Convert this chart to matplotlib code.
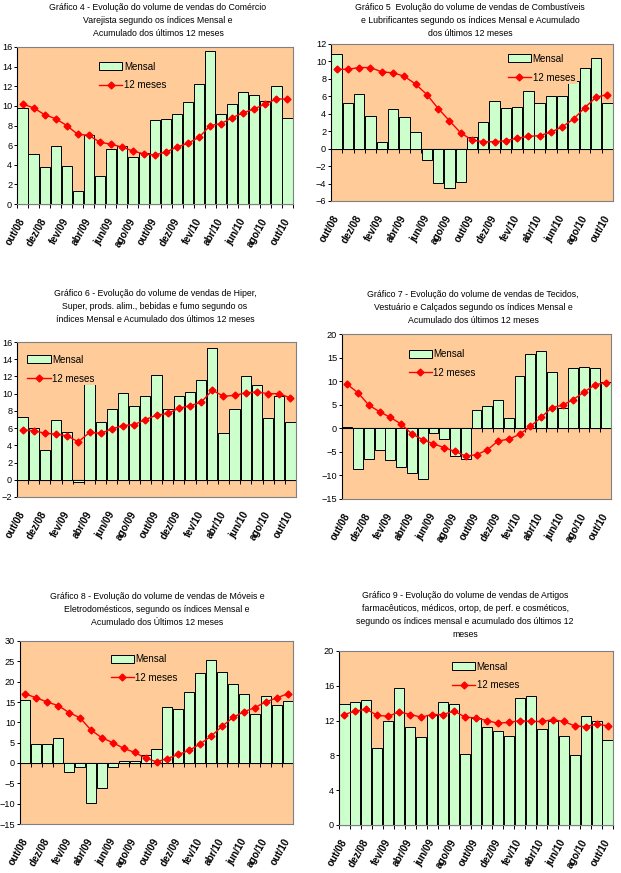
import numpy as np
import matplotlib
matplotlib.use('Agg')
import matplotlib.pyplot as plt
from matplotlib.lines import Line2D
from matplotlib.patches import Patch

plt.rcParams['font.family'] = ['Liberation Sans', 'DejaVu Sans']

months = ['out/08', 'nov/08', 'dez/08', 'jan/09', 'fev/09', 'mar/09', 'abr/09', 'mai/09',
          'jun/09', 'jul/09', 'ago/09', 'set/09', 'out/09', 'nov/09', 'dez/09', 'jan/10',
          'fev/10', 'mar/10', 'abr/10', 'mai/10', 'jun/10', 'jul/10', 'ago/10', 'set/10', 'out/10']

# Grafico 4 - Comercio varejista
mensal_4 = [9.8, 5.1, 3.8, 5.9, 3.9, 1.3, 7.0, 2.9, 5.6, 5.9, 4.8, 5.2, 8.6, 8.7, 9.2,
            10.4, 12.2, 15.6, 9.2, 10.2, 11.4, 11.1, 10.5, 12.0, 8.8]
acum_4 = [10.2, 9.8, 9.1, 8.7, 8.0, 7.1, 7.0, 6.3, 6.1, 5.8, 5.4, 5.1, 5.0, 5.3, 5.8,
          6.2, 6.8, 8.0, 8.2, 8.8, 9.3, 9.7, 10.2, 10.7, 10.7]

# Grafico 5 - Combustiveis e lubrificantes
mensal_5 = [10.9, 5.2, 6.3, 3.8, 0.8, 4.5, 3.6, 1.9, -1.3, -3.9, -4.5, -3.8, 1.3, 3.0, 5.5,
            4.7, 4.8, 6.6, 5.2, 6.0, 6.0, 7.8, 9.2, 10.4, 5.2]
acum_5 = [9.1, 9.1, 9.3, 9.3, 8.8, 8.7, 8.3, 7.4, 6.2, 4.6, 3.2, 1.8, 1.0, 0.8, 0.8,
          0.9, 1.2, 1.4, 1.5, 1.9, 2.5, 3.4, 4.7, 5.9, 6.2]

# Grafico 6 - Hiper, super
mensal_6 = [7.3, 6.0, 3.5, 7.0, 5.6, -0.3, 14.2, 6.7, 8.2, 10.1, 8.6, 9.7, 12.2, 8.2, 9.7,
            10.2, 11.6, 15.3, 5.4, 8.2, 12.0, 11.0, 7.2, 9.7, 6.7]
acum_6 = [5.8, 5.7, 5.4, 5.3, 5.1, 4.4, 5.5, 5.4, 5.9, 6.3, 6.4, 7.0, 7.5, 7.7, 8.3,
          8.6, 9.0, 10.4, 9.7, 9.8, 10.1, 10.2, 10.0, 10.0, 9.5]

# Grafico 7 - Tecidos, vestuario e calcados
mensal_7 = [0.3, -8.7, -6.6, -4.7, -6.8, -8.3, -9.5, -10.8, -0.9, -2.3, -5.8, -6.6, 3.9, 4.7, 6.0,
            2.2, 11.1, 15.7, 16.5, 11.9, 4.2, 12.7, 12.9, 12.7, 9.8]
acum_7 = [9.3, 7.5, 4.9, 3.5, 2.3, 0.9, -1.2, -2.4, -3.3, -4.1, -4.9, -5.9, -5.6, -4.6, -2.7,
          -2.3, -1.3, 0.4, 2.3, 4.4, 4.9, 6.1, 7.7, 9.2, 9.7]

# Grafico 8 - Moveis e eletrodomesticos
mensal_8 = [15.5, 4.6, 4.6, 6.1, -2.2, -1.0, -9.8, -6.1, -1.0, 0.4, 0.4, 1.9, 3.4, 13.8, 13.3,
            17.5, 22.1, 25.3, 22.3, 19.4, 17.0, 12.1, 16.5, 14.3, 15.2]
acum_8 = [17.0, 16.0, 15.0, 14.1, 12.4, 11.1, 8.1, 6.2, 5.0, 3.6, 2.6, 1.2, 0.3, 1.1, 2.1,
          3.1, 4.7, 6.6, 9.0, 11.2, 12.6, 13.6, 15.0, 16.0, 17.0]

# Grafico 9 - Artigos farmaceuticos
mensal_9 = [13.9, 14.1, 14.4, 8.9, 11.9, 15.7, 11.3, 10.1, 12.6, 14.1, 13.9, 8.2, 12.3, 11.3, 10.8,
            10.2, 14.6, 14.8, 11.0, 12.0, 10.2, 8.1, 12.5, 11.9, 9.8]
acum_9 = [12.7, 13.1, 13.3, 12.6, 12.5, 13.0, 12.7, 12.4, 12.7, 12.7, 13.1, 12.4, 12.3, 12.0, 11.7,
          11.8, 12.0, 11.9, 11.9, 12.1, 11.9, 11.4, 11.3, 11.6, 11.4]

titles = [
    'Gráfico 4 - Evolução do volume de vendas do Comércio\nVarejista segundo os índices Mensal e\nAcumulado dos últimos 12 meses',
    'Gráfico 5  Evolução do volume de vendas de Combustíveis\ne Lubrificantes segundo os índices Mensal e Acumulado\ndos últimos 12 meses',
    'Gráfico 6 - Evolução do volume de vendas de Hiper,\nSuper, prods. alim., bebidas e fumo segundo os\níndices Mensal e Acumulado dos últimos 12 meses',
    'Gráfico 7 - Evolução do volume de vendas de Tecidos,\nVestuário e Calçados segundo os índices Mensal e\nAcumulado dos últimos 12 meses',
    'Gráfico 8 - Evolução do volume de vendas de Móveis e\nEletrodomésticos, segundo os índices Mensal e\nAcumulado dos Últimos 12 meses',
    'Gráfico 9 - Evolução do volume de vendas de Artigos\nfarmacêuticos, médicos, ortop, de perf. e cosméticos,\nsegundo os índices mensal e acumulado dos últimos 12\nmeses',
]

W, H = 621, 873
ORANGE = '#FFCC99'
GREEN = '#CCFFCC'

# (data, ylim, ystep, axes box px (x0, y0, x1, y1), title top px, legend anchor)
panels = [
    (mensal_4, acum_4, (0, 16), 2, (17, 47, 293, 204), (158, 3), (0.29, 0.92)),
    (mensal_5, acum_5, (-6, 12), 2, (331, 44, 613, 201), (470, 3), (0.62, 0.95)),
    (mensal_6, acum_6, (-2, 16), 2, (17, 342, 296, 497), (155, 289), (0.03, 0.93)),
    (mensal_7, acum_7, (-15, 20), 5, (342, 334, 611, 499), (473, 290), (0.24, 0.92)),
    (mensal_8, acum_8, (-15, 30), 5, (20, 641, 293, 824), (157, 592), (0.325, 0.94)),
    (mensal_9, acum_9, (0, 20), 4, (339, 651, 613, 825), (465, 591), (0.405, 0.95)),
]

fig = plt.figure(figsize=(W / 100, H / 100), dpi=100)
fig.patch.set_facecolor('white')

x = np.arange(len(months))

for (mensal, acum, ylim, ystep, box, tpos, legpos), title in zip(panels, titles):
    x0, y0, x1, y1 = box
    ax = fig.add_axes([x0 / W, 1 - y1 / H, (x1 - x0) / W, (y1 - y0) / H])
    ax.set_facecolor(ORANGE)
    ax.bar(x, mensal, width=0.92, color=GREEN, edgecolor='black', linewidth=0.7, zorder=2)
    ax.plot(x, acum, color='red', lw=1.0, marker='D', ms=3.5, mec='red', mfc='red', zorder=3)
    ax.set_xlim(-0.5, len(months) - 0.5)
    ax.set_ylim(*ylim)
    ax.set_yticks(np.arange(ylim[0], ylim[1] + 0.1, ystep))
    ax.tick_params(axis='y', labelsize=6.6, length=2.5, width=0.7, pad=1)
    ax.set_xticks(x[::2])
    ax.set_xticklabels(months[::2], rotation=60, ha='right', va='center',
                       rotation_mode='anchor', fontsize=7.2, fontweight='bold')
    ax.tick_params(axis='x', length=0, pad=11)
    for s in ['top', 'right', 'bottom']:
        ax.spines[s].set_color('#808080')
        ax.spines[s].set_linewidth(0.8)
    ax.spines['left'].set_linewidth(0.8)

    # category axis crossing at zero, ticks between categories
    frac = (0 - ylim[0]) / (ylim[1] - ylim[0])
    sec = ax.secondary_xaxis(frac)
    sec.set_xticks(np.arange(-0.5, len(months), 1.0))
    sec.tick_params(axis='x', length=3, width=0.7, labelbottom=False, direction='out')
    sec.spines['bottom'].set_linewidth(0.8)

    handles = [Patch(facecolor=GREEN, edgecolor='black', linewidth=0.7),
               Line2D([], [], color='red', lw=1.0, marker='D', ms=3.5)]
    leg = ax.legend(handles, ['Mensal', '12 meses'], loc='upper left', bbox_to_anchor=legpos,
                    fontsize=7, frameon=True, facecolor=ORANGE, edgecolor='none', framealpha=1,
                    fancybox=False, handlelength=2.4, handleheight=0.9, borderpad=0.2,
                    labelspacing=0.9, handletextpad=0.15, borderaxespad=0)
    leg.set_zorder(5)

    fig.text(tpos[0] / W, 1 - tpos[1] / H, title, ha='center', va='top',
             fontsize=6.3, linespacing=1.55)

fig.savefig('out.png', dpi=100)
